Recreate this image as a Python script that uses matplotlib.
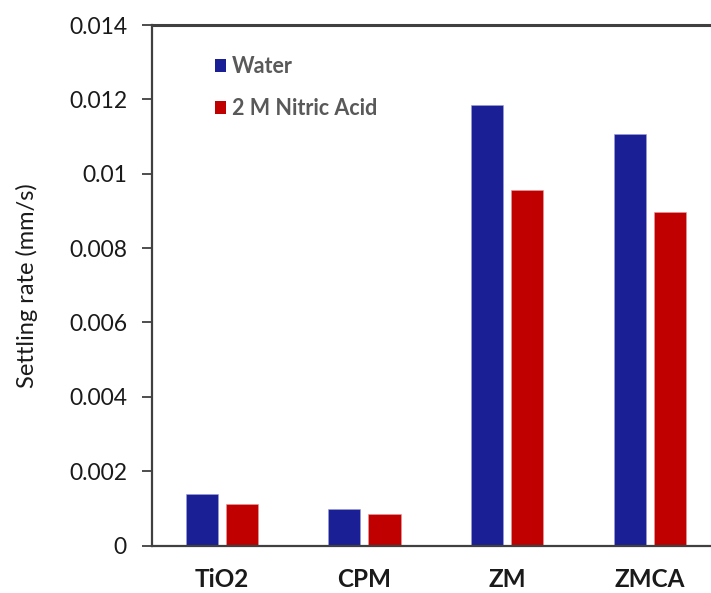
import matplotlib
matplotlib.use("Agg")
import matplotlib.pyplot as plt
import numpy as np
from matplotlib.patches import Patch

categories = ["TiO2", "CPM", "ZM", "ZMCA"]
water = [0.00138, 0.00099, 0.01184, 0.01108]
nitric_acid = [0.00111, 0.00084, 0.00957, 0.00897]
series_labels = ["Water", "2 M Nitric Acid"]
y_ticks = [0, 0.002, 0.004, 0.006, 0.008, 0.01, 0.012, 0.014]
y_tick_labels = ["0", "0.002", "0.004", "0.006", "0.008", "0.01", "0.012", "0.014"]

plt.rcParams["font.family"] = ["Lato", "DejaVu Sans"]

blue = "#1B1F96"
red = "#C00000"
axis_grey = "#404040"
text_grey = "#595959"

fig = plt.figure(figsize=(7.11, 5.93), dpi=100)
ax = fig.add_axes([152 / 711, 1 - 545.5 / 593, 569 / 711, 520.5 / 593])

x = np.arange(len(categories))
width = 0.225
offset = 0.1405
ax.bar(x - offset, water, width, color=blue, edgecolor="#9da0d6", linewidth=0.4)
ax.bar(x + offset, nitric_acid, width, color=red, edgecolor="#e59a9a", linewidth=0.4)

ax.set_xlim(-0.49, 3.5)
ax.set_ylim(0, 0.014)
ax.set_yticks(y_ticks)
ax.set_yticklabels(y_tick_labels)
ax.set_xticks(x)
ax.set_xticklabels(categories, fontweight="bold")

for side in ["left", "top", "bottom"]:
    ax.spines[side].set_color(axis_grey)
    ax.spines[side].set_linewidth(1.6)
ax.spines["right"].set_visible(False)
ax.spines["top"].set_linewidth(2.2)

ax.tick_params(axis="y", direction="out", length=7.5, width=1.3, color=axis_grey,
               pad=10.5, labelsize=16.5, labelcolor="#1a1a1a")
ax.tick_params(axis="x", length=0, pad=16, labelsize=17.5, labelcolor="#1a1a1a")

ax.set_ylabel("Settling rate (mm/s)", fontsize=17, color="#1a1a1a", labelpad=22)

handles = [Patch(facecolor=blue), Patch(facecolor=red)]
leg = ax.legend(handles, series_labels, loc="upper left",
                bbox_to_anchor=(0.076, 0.978), frameon=False,
                handlelength=0.55, handleheight=0.55, handletextpad=0.25,
                labelspacing=1.0, prop={"size": 15.5, "weight": "bold"})
for t in leg.get_texts():
    t.set_color(text_grey)

fig.savefig("out.png", dpi=100)
